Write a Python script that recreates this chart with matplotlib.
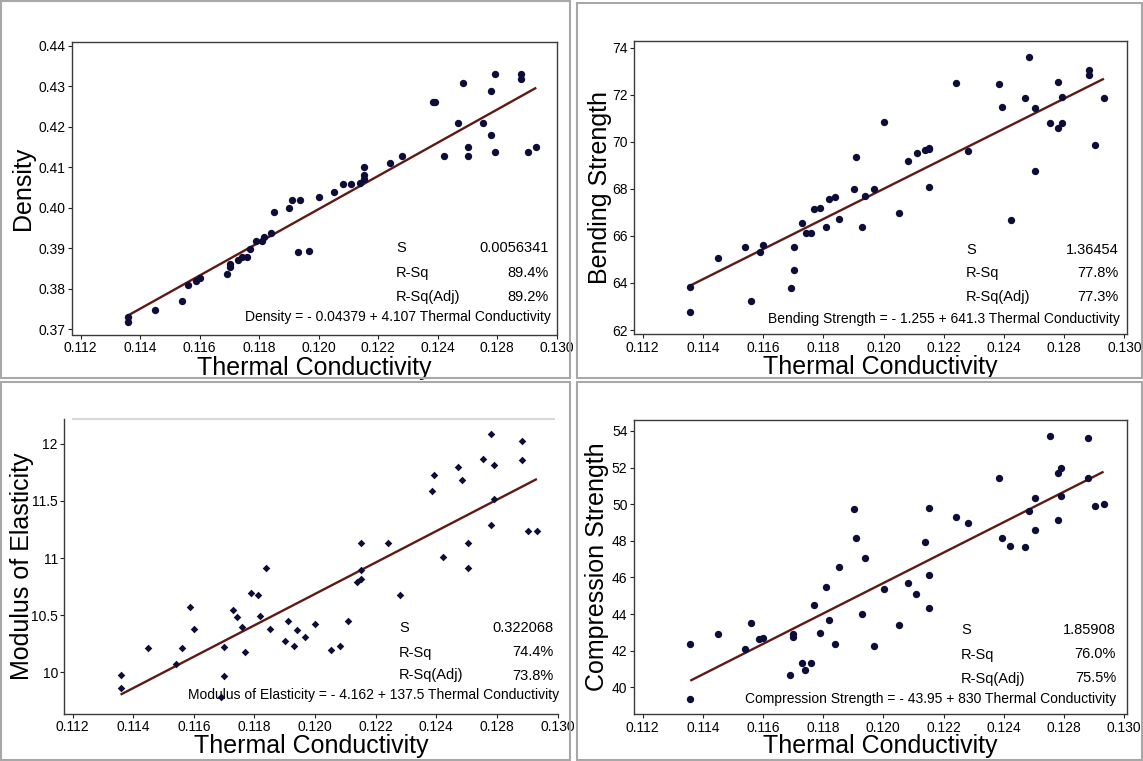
import matplotlib
matplotlib.use("Agg")
import matplotlib.pyplot as plt
import numpy as np
from matplotlib.patches import Rectangle

# ---------------- data ----------------
thermal_conductivity = [
    0.11358, 0.11358, 0.11450, 0.11541, 0.11560, 0.11588, 0.11600, 0.11691, 0.11701, 0.11701,
    0.11730, 0.11741, 0.11759, 0.11768, 0.11789, 0.11810, 0.11818, 0.11839, 0.11851, 0.11901,
    0.11910, 0.11930, 0.11939, 0.11968, 0.12001, 0.12051, 0.12081, 0.12110, 0.12139, 0.12152,
    0.12152, 0.12152, 0.12240, 0.12281, 0.12385, 0.12393, 0.12422, 0.12470, 0.12484, 0.12503,
    0.12503, 0.12553, 0.12581, 0.12581, 0.12592, 0.12592, 0.12682, 0.12682, 0.12703, 0.12732,
]
density = [
    0.3730, 0.3719, 0.3748, 0.3770, 0.3810, 0.3820, 0.3828, 0.3838, 0.3853, 0.3861,
    0.3871, 0.3879, 0.3879, 0.3898, 0.3919, 0.3919, 0.3928, 0.3938, 0.3989, 0.3999,
    0.4019, 0.3890, 0.4019, 0.3894, 0.4028, 0.4038, 0.4060, 0.4060, 0.4062, 0.4100,
    0.4082, 0.4071, 0.4110, 0.4128, 0.4260, 0.4260, 0.4128, 0.4209, 0.4309, 0.4149,
    0.4128, 0.4209, 0.4289, 0.4180, 0.4331, 0.4138, 0.4330, 0.4319, 0.4138, 0.4149,
]
bending_strength = [
    63.84, 62.78, 65.05, 65.54, 63.24, 65.30, 65.61, 63.80, 65.54, 64.55,
    66.55, 66.11, 66.11, 67.13, 67.20, 66.38, 67.56, 67.64, 66.72, 67.98,
    69.37, 66.38, 67.70, 67.98, 70.83, 66.96, 69.20, 69.52, 69.65, 69.70,
    69.72, 68.09, 72.50, 69.61, 72.44, 71.49, 66.68, 71.86, 73.62, 71.45,
    68.74, 70.81, 72.53, 70.57, 71.92, 70.78, 73.05, 72.84, 69.86, 71.86,
]
modulus_of_elasticity = [
    9.977, 9.860, 10.210, 10.070, 10.210, 10.572, 10.382, 9.781, 10.219, 9.968,
    10.543, 10.485, 10.394, 10.181, 10.692, 10.680, 10.493, 10.911, 10.382, 10.274,
    10.450, 10.231, 10.371, 10.309, 10.420, 10.193, 10.231, 10.450, 10.791, 10.815,
    10.899, 11.130, 11.130, 10.680, 11.591, 11.723, 11.013, 11.796, 11.685, 11.130,
    10.911, 11.866, 12.085, 11.291, 11.819, 11.521, 12.026, 11.860, 11.235, 11.241,
]
compression_strength = [
    42.37, 39.35, 42.91, 42.11, 43.50, 42.64, 42.68, 40.69, 42.91, 42.73,
    41.35, 40.95, 41.35, 44.52, 42.95, 45.48, 43.66, 42.37, 46.57, 49.76,
    48.14, 43.99, 47.06, 42.26, 45.39, 43.40, 45.72, 45.12, 47.92, 49.79,
    46.15, 44.35, 49.32, 48.96, 51.43, 48.14, 47.72, 47.65, 49.63, 50.34,
    48.61, 53.73, 51.69, 49.14, 51.96, 50.45, 53.62, 51.43, 49.90, 50.01,
]

x_tick_values = [0.112, 0.114, 0.116, 0.118, 0.120, 0.122, 0.124, 0.126, 0.128]
x_tick_labels = ["0.112", "0.114", "0.116", "0.118", "0.120", "0.122", "0.124", "0.128", "0.130"]
x_label = "Thermal Conductivity"

density_ticks = [0.37, 0.38, 0.39, 0.40, 0.41, 0.42, 0.43, 0.44]
density_tick_labels = ["0.37", "0.38", "0.39", "0.40", "0.41", "0.42", "0.43", "0.44"]
bending_ticks = [62, 64, 66, 68, 70, 72, 74]
bending_tick_labels = ["62", "64", "66", "68", "70", "72", "74"]
modulus_ticks = [10, 10.5, 11, 11.5, 12]
modulus_tick_labels = ["10", "10.5", "11", "11.5", "12"]
compression_ticks = [40, 42, 44, 46, 48, 50, 52, 54]
compression_tick_labels = ["40", "42", "44", "46", "48", "50", "52", "54"]

stat_names = ["S", "R-Sq", "R-Sq(Adj)"]
density_stats = ["0.0056341", "89.4%", "89.2%"]
bending_stats = ["1.36454", "77.8%", "77.3%"]
modulus_stats = ["0.322068", "74.4%", "73.8%"]
compression_stats = ["1.85908", "76.0%", "75.5%"]

density_eq = "Density = - 0.04379 + 4.107 Thermal Conductivity"
bending_eq = "Bending Strength = - 1.255 + 641.3 Thermal Conductivity"
modulus_eq = "Modulus of Elasticity = - 4.162 + 137.5 Thermal Conductivity"
compression_eq = "Compression Strength = - 43.95 + 830 Thermal Conductivity"

# ---------------- layout ----------------
W, H = 1143, 761
plt.rcParams['font.family'] = ['Liberation Sans', 'DejaVu Sans']
fig = plt.figure(figsize=(W / 100, H / 100), dpi=100)
fig.patch.set_facecolor("white")


def fx(px):
    return px / W


def fy(py):
    return 1 - py / H


POINT_COLOR = "#0d0d38"
LINE_COLOR = "#5e1a14"

panels = [
    dict(y=density, ylabel="Density", box=(72.1, 41.7, 556.5, 334.5),
         xlim=(0.11171, 0.12799), ylim=(0.36876, 0.4410),
         yticks=density_ticks, yticklabels=density_tick_labels,
         marker="o", ms=28, full_box=True,
         ylabel_x=23, xlabel_y=368,
         stats=density_stats, eq=density_eq,
         s_x=396, val_x=549, rows_y=(248.5, 273, 297), eq_x=551, eq_y=317.5,
         frame=(1, 1, 570, 378)),
    dict(y=bending_strength, ylabel="Bending Strength", box=(633.7, 41.0, 1127.4, 334.3),
         xlim=(0.11170, 0.12810), ylim=(61.82, 74.28),
         yticks=bending_ticks, yticklabels=bending_tick_labels,
         marker="o", ms=28, full_box=True,
         ylabel_x=600, xlabel_y=367.5,
         stats=bending_stats, eq=bending_eq,
         s_x=966, val_x=1119, rows_y=(249.5, 273, 297), eq_x=1119.5, eq_y=319,
         frame=(577, 3, 1142, 378)),
    dict(y=modulus_of_elasticity, ylabel="Modulus of Elasticity", box=(64.2, 418.7, 557.5, 713.5),
         xlim=(0.11172, 0.12800), ylim=(9.64, 12.22),
         yticks=modulus_ticks, yticklabels=modulus_tick_labels,
         marker="D", ms=15, full_box=False,
         ylabel_x=22, xlabel_y=746.5,
         stats=modulus_stats, eq=modulus_eq,
         s_x=399, val_x=553.5, rows_y=(628, 652.5, 675.5), eq_x=559, eq_y=694.5,
         frame=(1, 382, 570, 760)),
    dict(y=compression_strength, ylabel="Compression Strength", box=(633.7, 420.3, 1127.0, 713.7),
         xlim=(0.11170, 0.12810), ylim=(38.56, 54.58),
         yticks=compression_ticks, yticklabels=compression_tick_labels,
         marker="o", ms=28, full_box=True,
         ylabel_x=597, xlabel_y=746.5,
         stats=compression_stats, eq=compression_eq,
         s_x=961, val_x=1116, rows_y=(630, 654.5, 678.5), eq_x=1116, eq_y=698.5,
         frame=(577, 382, 1142, 760)),
]

x = np.array(thermal_conductivity)

for p in panels:
    l, t, r, b = p["box"]
    ax = fig.add_axes([fx(l), fy(b), (r - l) / W, (b - t) / H])
    y = np.array(p["y"])

    ax.scatter(x, y, s=p["ms"], marker=p["marker"], color=POINT_COLOR,
               linewidths=0, zorder=3)
    coef = np.polyfit(x, y, 1)
    xs = np.array([x.min(), x.max()])
    ax.plot(xs, np.polyval(coef, xs), color=LINE_COLOR, lw=1.7, zorder=2,
            solid_capstyle="butt")

    ax.set_xlim(*p["xlim"])
    ax.set_ylim(*p["ylim"])
    ax.set_xticks(x_tick_values)
    ax.set_xticklabels(x_tick_labels)
    ax.set_yticks(p["yticks"])
    ax.set_yticklabels(p["yticklabels"])
    ax.tick_params(axis="both", direction="out", length=3, width=0.8,
                   labelsize=10, colors="#222222", labelcolor="black")
    ax.tick_params(axis="x", pad=2)
    ax.tick_params(axis="y", pad=1.5)

    for side in ["left", "bottom", "top", "right"]:
        ax.spines[side].set_color("#3a3a3a")
        ax.spines[side].set_linewidth(1.0)
    if not p["full_box"]:
        ax.spines["right"].set_visible(False)
        ax.spines["top"].set_color("#d8d8d8")
        ax.spines["top"].set_linewidth(1.5)
        ax.spines["top"].set_bounds(0.1120, 0.1279)

    ax.set_ylabel(p["ylabel"], fontsize=18, va="center")
    ax.yaxis.set_label_coords((p["ylabel_x"] - l) / (r - l), 0.5)
    ax.set_xlabel(x_label, fontsize=18, va="center")
    ax.xaxis.set_label_coords(0.5, (b - p["xlabel_y"]) / (b - t))

    for name, val, ry in zip(stat_names, p["stats"], p["rows_y"]):
        ax.text(fx(p["s_x"]), fy(ry), name, transform=fig.transFigure,
                ha="left", va="center", fontsize=10.5, zorder=2.5)
        ax.text(fx(p["val_x"]), fy(ry), val, transform=fig.transFigure,
                ha="right", va="center", fontsize=10.5, zorder=2.5)
    ax.text(fx(p["eq_x"]), fy(p["eq_y"]), p["eq"], transform=fig.transFigure,
            ha="right", va="center", fontsize=10, zorder=2.5)

    x0, y0, x1, y1 = p["frame"]
    fig.add_artist(Rectangle((fx(x0), fy(y1)), (x1 - x0) / W, (y1 - y0) / H,
                             transform=fig.transFigure, fill=False,
                             edgecolor="#a8a8a8", lw=1.5))

fig.savefig("out.png", dpi=100, facecolor="white")
